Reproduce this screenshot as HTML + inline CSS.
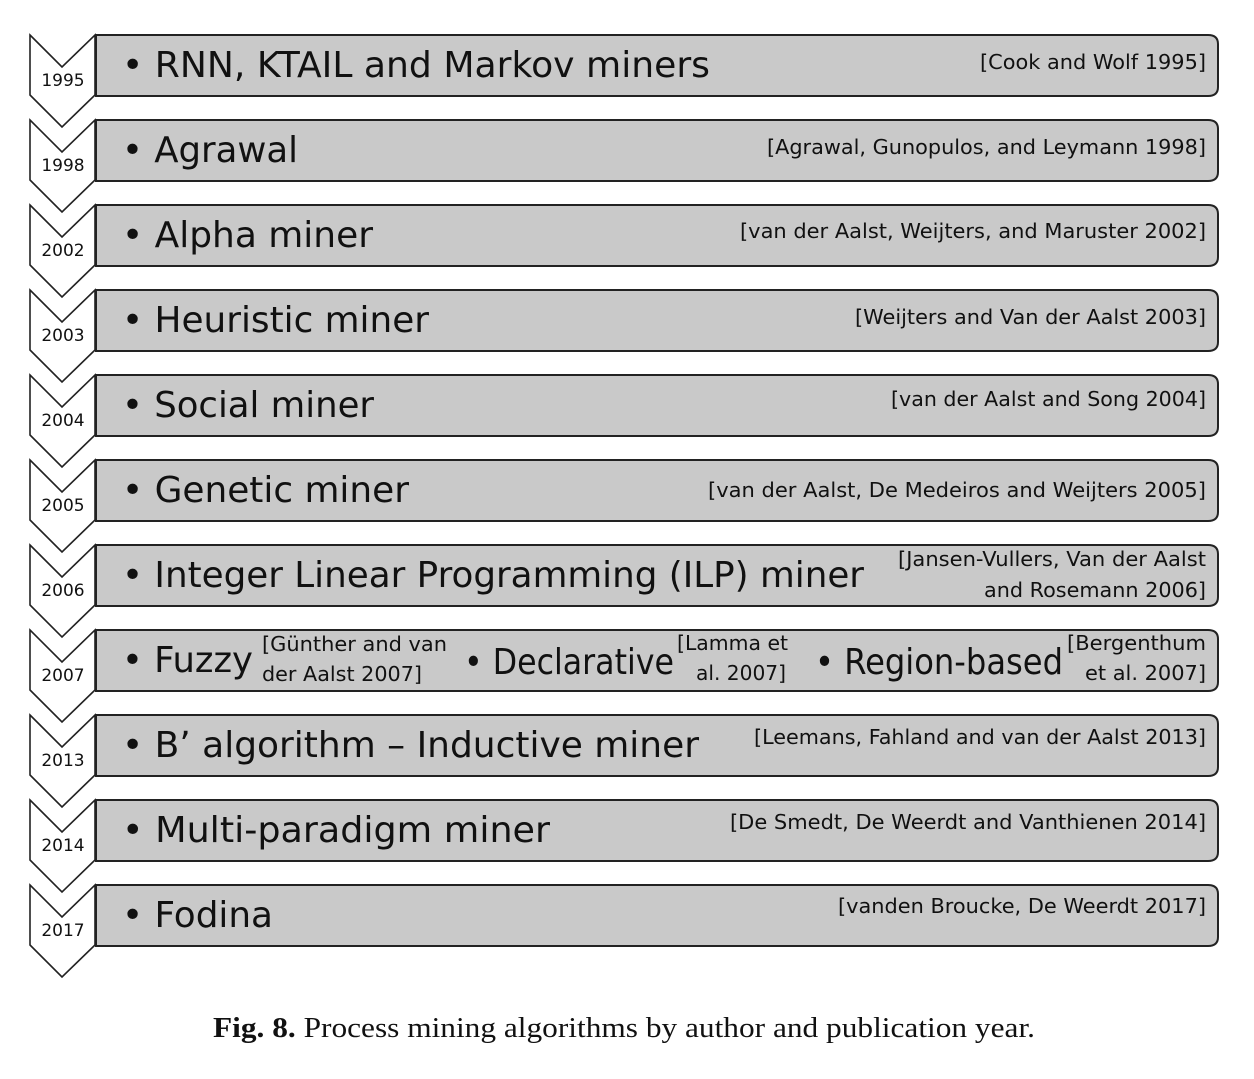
<!DOCTYPE html>
<html><head><meta charset="utf-8"><style>
body{margin:0;background:#fff;}
svg text{font-family:"DejaVu Sans","Liberation Sans",sans-serif;fill:#111;}
</style></head><body>
<svg width="1254" height="1074" viewBox="0 0 1254 1074" xmlns="http://www.w3.org/2000/svg">
<defs>
<g id="row">
  <path d="M96,0 H1208 Q1218,0 1218,9 V52 Q1218,61 1208,61 H96 Z" fill="#c9c9c9" stroke="#222" stroke-width="2"/>
  <path d="M30,0 L62,32 L95,0 V60 L62,92 L30,60 Z" fill="#fff" stroke="#222" stroke-width="1.6" stroke-linejoin="miter"/>
</g>
</defs>
<g font-size="17" text-anchor="middle">
<use href="#row" y="35"/><text x="63" y="86">1995</text>
<use href="#row" y="120"/><text x="63" y="171">1998</text>
<use href="#row" y="205"/><text x="63" y="256">2002</text>
<use href="#row" y="290"/><text x="63" y="341">2003</text>
<use href="#row" y="375"/><text x="63" y="426">2004</text>
<use href="#row" y="460"/><text x="63" y="511">2005</text>
<use href="#row" y="545"/><text x="63" y="596">2006</text>
<use href="#row" y="630"/><text x="63" y="681">2007</text>
<use href="#row" y="715"/><text x="63" y="766">2013</text>
<use href="#row" y="800"/><text x="63" y="851">2014</text>
<use href="#row" y="885"/><text x="63" y="936">2017</text>
</g>
<g font-size="36">
<text x="122" y="77" textLength="588" lengthAdjust="spacingAndGlyphs">• RNN, KTAIL and Markov miners</text>
<text x="122" y="162" textLength="176" lengthAdjust="spacingAndGlyphs">• Agrawal</text>
<text x="122" y="247" textLength="251" lengthAdjust="spacingAndGlyphs">• Alpha miner</text>
<text x="122" y="332" textLength="307" lengthAdjust="spacingAndGlyphs">• Heuristic miner</text>
<text x="122" y="417" textLength="252" lengthAdjust="spacingAndGlyphs">• Social miner</text>
<text x="122" y="502" textLength="287" lengthAdjust="spacingAndGlyphs">• Genetic miner</text>
<text x="122" y="587" textLength="742" lengthAdjust="spacingAndGlyphs">• Integer Linear Programming (ILP) miner</text>
<text x="122" y="672" textLength="131" lengthAdjust="spacingAndGlyphs">• Fuzzy</text>
<text x="464" y="674" textLength="210" lengthAdjust="spacingAndGlyphs">• Declarative</text>
<text x="815" y="674" textLength="248" lengthAdjust="spacingAndGlyphs">• Region-based</text>
<text x="122" y="757" textLength="577" lengthAdjust="spacingAndGlyphs">• B’ algorithm – Inductive miner</text>
<text x="122" y="842" textLength="428" lengthAdjust="spacingAndGlyphs">• Multi-paradigm miner</text>
<text x="122" y="927" textLength="151" lengthAdjust="spacingAndGlyphs">• Fodina</text>
</g>
<g font-size="20">
<text x="980" y="69" textLength="226" lengthAdjust="spacingAndGlyphs">[Cook and Wolf 1995]</text>
<text x="767" y="154" textLength="439" lengthAdjust="spacingAndGlyphs">[Agrawal, Gunopulos, and Leymann 1998]</text>
<text x="740" y="238" textLength="466" lengthAdjust="spacingAndGlyphs">[van der Aalst, Weijters, and Maruster 2002]</text>
<text x="855" y="324" textLength="351" lengthAdjust="spacingAndGlyphs">[Weijters and Van der Aalst 2003]</text>
<text x="891" y="406" textLength="315" lengthAdjust="spacingAndGlyphs">[van der Aalst and Song 2004]</text>
<text x="708" y="497" textLength="498" lengthAdjust="spacingAndGlyphs">[van der Aalst, De Medeiros and Weijters 2005]</text>
<text x="898" y="566" textLength="308" lengthAdjust="spacingAndGlyphs">[Jansen-Vullers, Van der Aalst</text>
<text x="984" y="597" textLength="222" lengthAdjust="spacingAndGlyphs">and Rosemann 2006]</text>
<text x="1067" y="650" textLength="139" lengthAdjust="spacingAndGlyphs">[Bergenthum</text>
<text x="1085" y="680" textLength="121" lengthAdjust="spacingAndGlyphs">et al. 2007]</text>
<text x="754" y="744" textLength="452" lengthAdjust="spacingAndGlyphs">[Leemans, Fahland and van der Aalst 2013]</text>
<text x="730" y="829" textLength="476" lengthAdjust="spacingAndGlyphs">[De Smedt, De Weerdt and Vanthienen 2014]</text>
<text x="838" y="913" textLength="368" lengthAdjust="spacingAndGlyphs">[vanden Broucke, De Weerdt 2017]</text>
<text x="262" y="651" textLength="185" lengthAdjust="spacingAndGlyphs">[Günther and van</text>
<text x="262" y="681" textLength="160" lengthAdjust="spacingAndGlyphs">der Aalst 2007]</text>
<text x="677" y="650" textLength="111" lengthAdjust="spacingAndGlyphs">[Lamma et</text>
<text x="696" y="680" textLength="90" lengthAdjust="spacingAndGlyphs">al. 2007]</text>
</g>
<text x="213" y="1037" font-size="28" textLength="822" lengthAdjust="spacingAndGlyphs" style="font-family:'Liberation Serif',serif"><tspan font-weight="bold">Fig. 8.</tspan>  Process mining algorithms by author and publication year.</text>
</svg>
</body></html>
